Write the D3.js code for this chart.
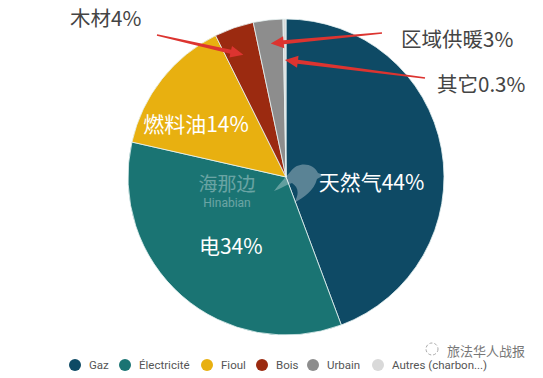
<!DOCTYPE html>
<html>
<head>
<meta charset="utf-8">
<script src="https://cdn.jsdelivr.net/npm/d3@7"></script>
<style>
  body { margin: 0; background: #fff; }
  svg { display: block; }
</style>
</head>
<body>
<div id="chart"></div>
<script>
// energy mix for heating (pie starts at 12 o'clock, clockwise)
const categories = ["Gaz", "Électricité", "Fioul", "Bois", "Urbain", "Autres (charbon...)"];
const labelsZh = ["天然气44%", "电34%", "燃料油14%", "木材4%", "区域供暖3%", "其它0.3%"];
const shares = [44, 34, 14, 4, 3, 0.3];
const colors = ["#0e4a65", "#1a7473", "#e8b010", "#9b2a10", "#8d8d8d", "#d9d9d9"];

const width = 543, height = 378;
const cx = 286, cy = 177, r = 158;

const svg = d3.select("#chart").append("svg")
    .attr("width", width)
    .attr("height", height);

const data = categories.map((c, i) => ({ cat: c, zh: labelsZh[i], v: shares[i], color: colors[i] }));

let pie = d3.pie().sort(null).value(d => d.v);
let arc = d3.arc().innerRadius(0).outerRadius(r);
let arcs = pie(data);

const g = svg.append("g").attr("transform", `translate(${cx},${cy})`);

g.selectAll("path.slice")
    .data(arcs)
    .join("path")
    .attr("class", "slice")
    .attr("d", arc)
    .attr("fill", d => d.data.color)
    .attr("stroke", "#e8f4f4")
    .attr("stroke-width", 0.8);

// point on a slice at fraction k of the radius (mid angle)
function onSlice(d, k) {
    const a = (d.startAngle + d.endAngle) / 2;
    return [Math.sin(a) * r * k, -Math.cos(a) * r * k];
}

// watermark in the middle
const wm = g.append("g").attr("opacity", 0.35).attr("fill", "#fff");
wm.append("text").attr("x", -59).attr("y", 14).attr("text-anchor", "middle")
    .style("font-family", "'Noto Sans CJK SC'").style("font-size", "19px").text("海那边");
wm.append("text").attr("x", -59).attr("y", 30).attr("text-anchor", "middle")
    .style("font-family", "Roboto, sans-serif").style("font-size", "12px").text("Hinabian");
wm.append("path")
    .attr("d", "M5,-6 C12,-16 28,-14 32,-4 L38,-2 L31,2 C28,14 18,20 8,26 C14,16 12,10 6,6 C0,8 -6,12 -12,14 C-6,6 0,0 5,-6 Z")
    .attr("opacity", 0.9);

// inner labels (white): [radius fraction, dx, dy]
const inner = { 0: [0.55, 0, 19], 1: [0.56, 3, 1], 2: [0.7, -3, 14] };
g.selectAll("text.inner")
    .data(arcs.filter(d => inner[d.index]))
    .join("text")
    .attr("class", "inner")
    .attr("x", d => onSlice(d, inner[d.index][0])[0] + inner[d.index][1])
    .attr("y", d => onSlice(d, inner[d.index][0])[1] + inner[d.index][2])
    .attr("text-anchor", "middle")
    .attr("dominant-baseline", "central")
    .attr("fill", "#fff")
    .style("font-family", "'Noto Sans CJK SC', sans-serif")
    .style("font-size", "21px")
    .text(d => d.data.zh);

// outside annotations with red arrows
const outer = [
    { i: 3, k: 0.82, from: [157 - cx, 35 - cy], tx: 70 - cx, ty: 17 - cy },
    { i: 4, k: 0.85, from: [382 - cx, 33 - cy], tx: 401 - cx, ty: 38 - cy },
    { i: 5, k: 0.74, from: [425 - cx, 78 - cy], tx: 437 - cx, ty: 83 - cy }
];

function arrowPath(p0, p1) {
    const dx = p1[0] - p0[0], dy = p1[1] - p0[1];
    const len = Math.hypot(dx, dy), ux = dx / len, uy = dy / len;
    const nx = -uy, ny = ux;
    const head = 13, hw = 6, w0 = 0.8, w1 = 2;
    const b = [p1[0] - ux * head, p1[1] - uy * head];
    const pts = [
        [p0[0] + nx * w0, p0[1] + ny * w0],
        [b[0] + nx * w1, b[1] + ny * w1],
        [b[0] + nx * hw, b[1] + ny * hw],
        p1,
        [b[0] - nx * hw, b[1] - ny * hw],
        [b[0] - nx * w1, b[1] - ny * w1],
        [p0[0] - nx * w0, p0[1] - ny * w0]
    ];
    return "M" + pts.map(p => p.join(",")).join("L") + "Z";
}

outer.forEach(o => {
    const tip = onSlice(arcs[o.i], o.k);
    g.append("path")
        .attr("d", arrowPath(o.from, tip))
        .attr("fill", "#dc3430");
    g.append("text")
        .attr("x", o.tx).attr("y", o.ty)
        .attr("dominant-baseline", "central")
        .attr("fill", "#444")
        .style("font-family", "'Noto Sans CJK SC', sans-serif")
        .style("font-size", "20.5px")
        .text(arcs[o.i].data.zh);
});

// legend
const legendX = [75, 125, 207, 262, 313, 378];
const legend = svg.append("g").attr("transform", "translate(0,365)");
const items = legend.selectAll("g.item")
    .data(data)
    .join("g")
    .attr("class", "item")
    .attr("transform", (d, i) => `translate(${legendX[i]},0)`);
items.append("circle").attr("r", 6).attr("fill", d => d.color);
items.append("text")
    .attr("x", 14)
    .attr("dominant-baseline", "central")
    .attr("fill", "#555")
    .style("font-family", "Roboto, sans-serif")
    .style("font-size", "11.5px")
    .text(d => d.cat);

// bottom-right watermark
svg.append("circle").attr("cx", 432).attr("cy", 349).attr("r", 6)
    .attr("fill", "none").attr("stroke", "#aaa").attr("stroke-dasharray", "3,2");
svg.append("text")
    .attr("x", 447).attr("y", 350)
    .attr("dominant-baseline", "central")
    .attr("fill", "#777")
    .style("font-family", "'Noto Sans CJK SC', sans-serif")
    .style("font-size", "13px")
    .text("旅法华人战报");
</script>
</body>
</html>
